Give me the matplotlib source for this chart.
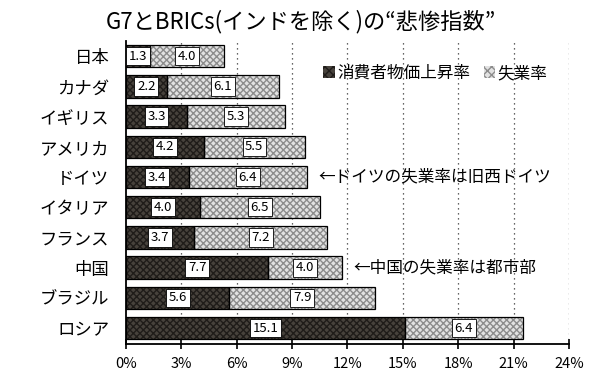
import matplotlib
matplotlib.use('Agg')
import matplotlib.pyplot as plt
from matplotlib.patches import Patch
import numpy as np

plt.rcParams['font.family'] = ['Noto Sans CJK JP', 'DejaVu Sans']

countries = ['日本', 'カナダ', 'イギリス', 'アメリカ', 'ドイツ', 'イタリア', 'フランス', '中国', 'ブラジル', 'ロシア']
inflation = [1.3, 2.2, 3.3, 4.2, 3.4, 4.0, 3.7, 7.7, 5.6, 15.1]
unemployment = [4.0, 6.1, 5.3, 5.5, 6.4, 6.5, 7.2, 4.0, 7.9, 6.4]
xticks = [0, 3, 6, 9, 12, 15, 18, 21, 24]
notes = {'ドイツ': '←ドイツの失業率は旧西ドイツ', '中国': '←中国の失業率は都市部'}
title = 'G7とBRICs(インドを除く)の“悲惨指数”'

dark_face, dark_hatch = '#47423c', '#1f1c19'
light_face, light_hatch = '#e2e2e2', '#8c8c8c'

fig = plt.figure(figsize=(5.96, 3.84), dpi=100)
ax = fig.add_axes([0.2114, 0.104, 0.7433, 0.789])

y = np.arange(len(countries))
inf = np.array(inflation)
une = np.array(unemployment)
h = 0.74

# hatched fill first, then a black outline on top
ax.barh(y, inf, height=h, color=dark_face, hatch='xxxxx', edgecolor=dark_hatch, lw=0, zorder=2)
ax.barh(y, une, left=inf, height=h, color=light_face, hatch='xxxxx', edgecolor=light_hatch, lw=0, zorder=2)
ax.barh(y, inf, height=h, facecolor='none', edgecolor='black', lw=0.9, zorder=3)
ax.barh(y, une, left=inf, height=h, facecolor='none', edgecolor='black', lw=0.9, zorder=3)

box = dict(boxstyle='square,pad=0.2', fc='white', ec='black', lw=0.6)
for i in range(len(countries)):
    ax.text(inf[i] / 2, y[i], f'{inf[i]:.1f}', ha='center', va='center', fontsize=9.5, bbox=box, zorder=4)
    ax.text(inf[i] + une[i] / 2, y[i], f'{une[i]:.1f}', ha='center', va='center', fontsize=9.5, bbox=box, zorder=4)
    if countries[i] in notes:
        ax.text(inf[i] + une[i] + 0.6, y[i], notes[countries[i]], ha='left', va='center', fontsize=12)

ax.set_xlim(0, 24)
ax.set_ylim(9.53, -0.5)
ax.set_yticks(y)
ax.set_yticklabels(countries, fontsize=12.5)
ax.tick_params(axis='y', length=0, pad=12)
ax.set_xticks(xticks)
ax.set_xticklabels([f'{t}%' for t in xticks], fontsize=10.5)
ax.tick_params(axis='x', direction='inout', length=7, width=1.2, pad=6)

for t in xticks[1:]:
    ax.axvline(t, color='#333333', ls=(0, (1, 3)), lw=0.9, zorder=1)

for s in ['top', 'right']:
    ax.spines[s].set_visible(False)
ax.spines['left'].set_linewidth(1.3)
ax.spines['bottom'].set_linewidth(1.3)

handles = [Patch(facecolor=dark_face, edgecolor=dark_hatch, hatch='xxxx', lw=0),
           Patch(facecolor=light_face, edgecolor=light_hatch, hatch='xxxx', lw=0)]
ax.legend(handles, ['消費者物価上昇率', '失業率'], ncol=2, frameon=False, fontsize=12,
          loc='center left', bbox_to_anchor=(0.43, 0.893), handlelength=0.7, handleheight=0.7,
          handletextpad=0.15, columnspacing=0.8, borderaxespad=0)

fig.text(0.505, 0.945, title, ha='center', va='center', fontsize=16)

fig.savefig('out.png', dpi=100, facecolor='white')
